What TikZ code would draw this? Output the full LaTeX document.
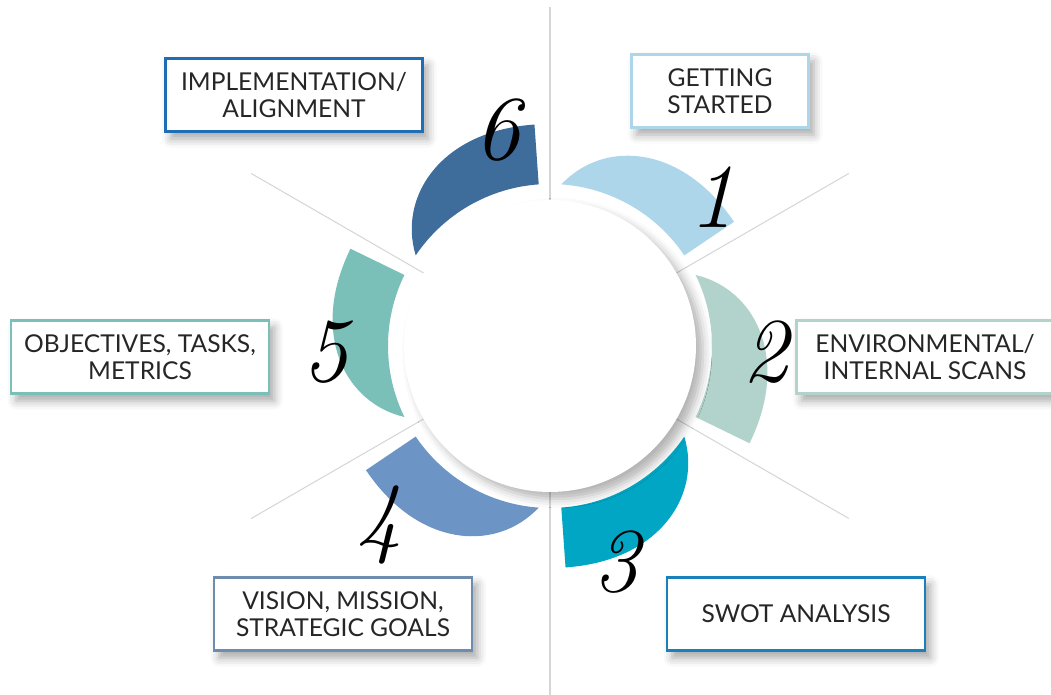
\documentclass[tikz,border=0pt]{standalone}
\usepackage{fontspec}
\setmainfont{Lato}
\usepackage{tikz}
\usetikzlibrary{shadows.blur}
\definecolor{stageOne}{HTML}{AED6EA}
\definecolor{stageTwo}{HTML}{B2D3CB}
\definecolor{stageThree}{HTML}{00A6C4}
\definecolor{stageFour}{HTML}{6C94C5}
\definecolor{stageFive}{HTML}{7BC0B8}
\definecolor{stageSix}{HTML}{3E6D9B}
\definecolor{frameImpl}{HTML}{1F6EB5}
\definecolor{frameSwot}{HTML}{1A80BC}
\definecolor{frameVision}{HTML}{6E8DAE}
\definecolor{spokeGrey}{HTML}{D6D6D6}
\definecolor{labelInk}{HTML}{262626}
\newcommand{\handnum}{\fontencoding{TU}\fontfamily{lmr}\fontseries{m}\fontshape{it}\selectfont}
\tikzset{
  stagebox/.style={draw=#1,line width=1.6pt,fill=white,align=center,inner sep=0pt,
    minimum height=1.47cm,text=labelInk,font=\fontsize{14}{15.5}\selectfont,
    blur shadow={shadow xshift=3pt,shadow yshift=-4pt,shadow blur radius=5pt,shadow opacity=35}},
  stagenum/.style={font=\handnum\fontsize{52}{52}\selectfont,text=black}
}

\begin{document}
\begin{tikzpicture}[x=0.02cm,y=0.02cm]
  \useasboundingbox (0,0) rectangle (1051,695);
  \coordinate (hubc) at (550,349);
  % spokes
  \foreach \a in {30,150,210,330}
    \draw[spokeGrey,line width=0.6pt] (hubc) -- ++(\a:345);
  \draw[spokeGrey,line width=0.6pt] (550,0) -- (550,688);
  % stage arcs, thin tip first, clockwise
  \foreach \s/\col in {86/stageOne,26/stageTwo,-34/stageThree,-94/stageFour,-154/stageFive,-214/stageSix}
    \fill[\col,shift={(550,349)}] plot[domain=0:1,samples=40] ({\s-52*\x}:{162+60*(1-(1-\x)^3)})
      -- ({\s-52}:162) arc[start angle=\s-52,end angle=\s,radius=162] -- cycle;
  % hub
  \node[circle,fill=white,inner sep=0pt,minimum size=5.84cm,
    blur shadow={shadow xshift=4pt,shadow yshift=-4pt,shadow blur radius=5pt,shadow opacity=30}] (hub) at (hubc) {};
  % labels
  \node[stagebox=frameImpl,minimum width=5.14cm] (implbox) at (294,600) {IMPLEMENTATION/\\ALIGNMENT};
  \node[stagebox=stageOne,minimum width=3.54cm] (startbox) at (720,604) {GETTING\\STARTED};
  \node[stagebox=stageTwo,minimum width=5.14cm] (scanbox) at (925,338) {ENVIRONMENTAL/\\INTERNAL SCANS};
  \node[stagebox=frameSwot,minimum width=5.16cm] (swotbox) at (796,81) {SWOT ANALYSIS};
  \node[stagebox=frameVision,minimum width=5.16cm] (visionbox) at (343,81) {VISION, MISSION,\\STRATEGIC GOALS};
  \node[stagebox=stageFive,minimum width=5.16cm] (objbox) at (140,338) {OBJECTIVES, TASKS,\\METRICS};
  % hand numbers
  \node[stagenum] (num1) at (712,498) {1};
  \node[stagenum] (num2) at (765,343) {2};
  \node[stagenum] (num3) at (616,133) {3};
  \node[stagenum] (num4) at (379,170) {4};
  \node[stagenum] (num5) at (325,343) {5};
  \node[stagenum] (num6) at (497,565) {6};
\end{tikzpicture}
\end{document}
